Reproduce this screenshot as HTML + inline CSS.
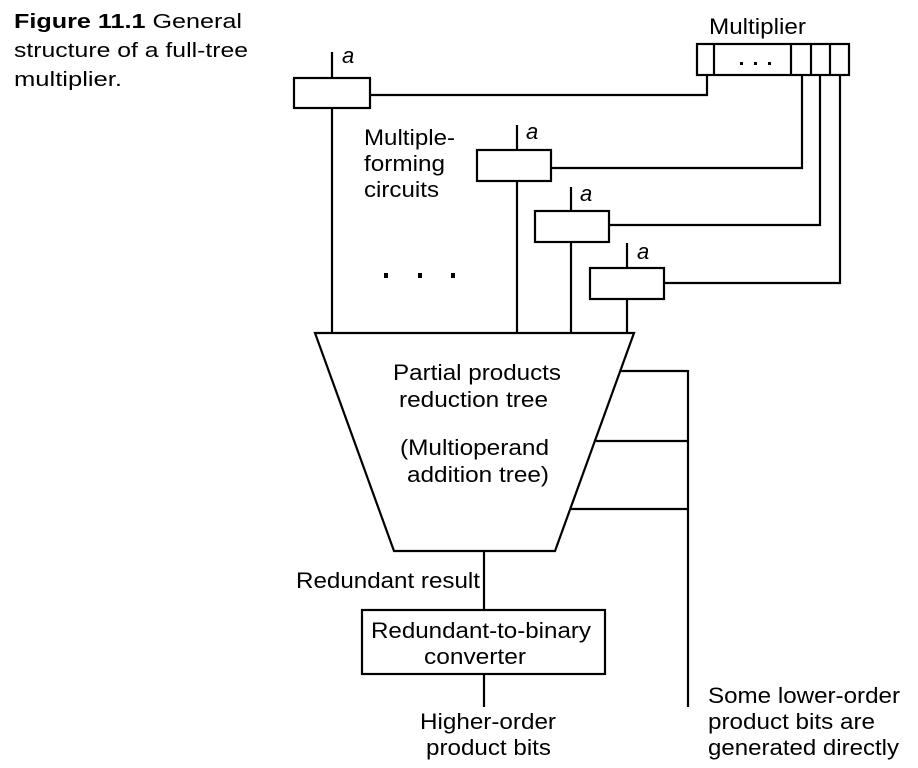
<!DOCTYPE html>
<html><head><meta charset="utf-8"><style>
body{margin:0;background:#fff;}
svg{display:block;}
text{font-family:"Liberation Sans",sans-serif;fill:#000;}
</style></head><body>
<svg width="918" height="768" viewBox="0 0 918 768" xmlns="http://www.w3.org/2000/svg">
<g font-size="20">
<text x="14" y="28" textLength="228" lengthAdjust="spacingAndGlyphs"><tspan font-weight="bold">Figure 11.1</tspan>  General</text>
<text x="14" y="57" textLength="234" lengthAdjust="spacingAndGlyphs">structure of a full-tree</text>
<text x="14" y="86" textLength="108" lengthAdjust="spacingAndGlyphs">multiplier.</text>
</g>
<g stroke="#000" stroke-width="2.2" fill="none">
<rect x="697" y="44" width="152" height="31" fill="#fff"/>
<line x1="714" y1="44" x2="714" y2="75"/>
<line x1="791" y1="44" x2="791" y2="75"/>
<line x1="811" y1="44" x2="811" y2="75"/>
<line x1="830" y1="44" x2="830" y2="75"/>
<polyline points="370,95 707,95 707,75"/>
<polyline points="551,168 802,168 802,75"/>
<polyline points="609,225 820,225 820,75"/>
<polyline points="664,283 840,283 840,75"/>
<rect x="294" y="78" width="76" height="30"/>
<rect x="477" y="150" width="74" height="31"/>
<rect x="535" y="211" width="74" height="31"/>
<rect x="590" y="268" width="74" height="31"/>
<line x1="332" y1="52" x2="332" y2="78"/>
<line x1="517" y1="125" x2="517" y2="150"/>
<line x1="571" y1="187" x2="571" y2="211"/>
<line x1="627" y1="243" x2="627" y2="268"/>
<line x1="332" y1="108" x2="332" y2="333"/>
<line x1="517" y1="181" x2="517" y2="333"/>
<line x1="571" y1="242" x2="571" y2="333"/>
<line x1="627" y1="299" x2="627" y2="333"/>
<polygon points="315,333 634,333 555,551 394,551"/>
<line x1="621" y1="371" x2="688" y2="371"/>
<line x1="596" y1="441" x2="688" y2="441"/>
<line x1="571" y1="509" x2="688" y2="509"/>
<line x1="688" y1="370" x2="688" y2="707"/>
<line x1="484" y1="551" x2="484" y2="610"/>
<rect x="362" y="610" width="243" height="64"/>
<line x1="484" y1="674" x2="484" y2="707"/>
</g>
<g fill="#000">
<rect x="740" y="62" width="3" height="3"/><rect x="754" y="62" width="3" height="3"/><rect x="768" y="62" width="3" height="3"/>
<rect x="384" y="273" width="4" height="5"/><rect x="418" y="273" width="4" height="5"/><rect x="451" y="273" width="4" height="5"/>
</g>
<g font-size="22">
<text x="709" y="34" textLength="97" lengthAdjust="spacingAndGlyphs">Multiplier</text>
<text x="342" y="63" font-style="italic">a</text>
<text x="526" y="139" font-style="italic">a</text>
<text x="580" y="201" font-style="italic">a</text>
<text x="637" y="259" font-style="italic">a</text>
<text x="364" y="145" textLength="91" lengthAdjust="spacingAndGlyphs">Multiple-</text>
<text x="364" y="171" textLength="81" lengthAdjust="spacingAndGlyphs">forming</text>
<text x="364" y="197" textLength="75" lengthAdjust="spacingAndGlyphs">circuits</text>
<text x="393" y="380" textLength="168" lengthAdjust="spacingAndGlyphs">Partial products</text>
<text x="399" y="407" textLength="149" lengthAdjust="spacingAndGlyphs">reduction tree</text>
<text x="400" y="455" textLength="149" lengthAdjust="spacingAndGlyphs">(Multioperand</text>
<text x="407" y="482" textLength="142" lengthAdjust="spacingAndGlyphs">addition tree)</text>
<text x="296" y="588" textLength="184" lengthAdjust="spacingAndGlyphs">Redundant result</text>
<text x="371" y="638" textLength="220" lengthAdjust="spacingAndGlyphs">Redundant-to-binary</text>
<text x="424" y="664" textLength="102" lengthAdjust="spacingAndGlyphs">converter</text>
<text x="420" y="729" textLength="136" lengthAdjust="spacingAndGlyphs">Higher-order</text>
<text x="426" y="755" textLength="125" lengthAdjust="spacingAndGlyphs">product bits</text>
<text x="708" y="703" textLength="192" lengthAdjust="spacingAndGlyphs">Some lower-order</text>
<text x="708" y="729" textLength="167" lengthAdjust="spacingAndGlyphs">product bits are</text>
<text x="708" y="755" textLength="191" lengthAdjust="spacingAndGlyphs">generated directly</text>
</g>
</svg>
</body></html>
